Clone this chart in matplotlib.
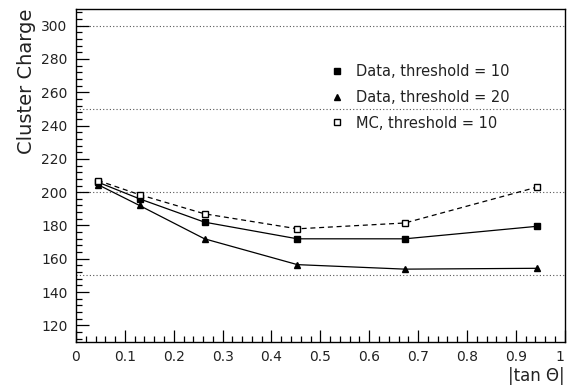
import matplotlib.pyplot as plt
import numpy as np
from matplotlib.ticker import MultipleLocator

# values
tan_theta = [0.045, 0.13, 0.263, 0.453, 0.673, 0.943]
data_thr10 = [206, 196, 182, 172, 172, 179.5]
data_thr20 = [204.5, 192, 172, 156.5, 153.8, 154.3]
mc_thr10 = [207, 198.5, 187, 178, 181.5, 203]
grid_levels = [150, 200, 250, 300]

plt.rcParams['font.family'] = ['DejaVu Sans']

fig = plt.figure(figsize=(5.67, 3.87), dpi=100)
ax = fig.add_axes([0.134, 0.116, 0.862, 0.861])

for g in grid_levels:
    ax.axhline(g, color='#555555', lw=0.8, ls=(0, (1, 2)), zorder=0)

ax.plot(tan_theta, data_thr10, color='black', lw=0.9, marker='s', ms=5,
        mfc='black', mec='black', label='Data, threshold = 10')
ax.plot(tan_theta, data_thr20, color='black', lw=0.9, marker='^', ms=5,
        mfc='black', mec='black', label='Data, threshold = 20')
ax.plot(tan_theta, mc_thr10, color='black', lw=0.9, ls=(0, (4, 3)), marker='s', ms=5,
        mfc='white', mec='black', label='MC, threshold = 10')

ax.set_xlim(0, 1)
ax.set_ylim(110, 310)
ax.xaxis.set_minor_locator(MultipleLocator(0.02))
ax.yaxis.set_minor_locator(MultipleLocator(4))
ax.set_yticks(np.arange(120, 301, 20))
ax.set_xticks(np.arange(0, 1.01, 0.1))
ax.set_xticklabels(['0', '0.1', '0.2', '0.3', '0.4', '0.5', '0.6', '0.7', '0.8', '0.9', '1'])
ax.tick_params(which='both', direction='in', top=False, right=False, labelsize=10,
               width=0.9, labelcolor='#222222')
ax.tick_params(which='major', length=9, pad=6)
ax.tick_params(which='minor', length=4)
ax.get_xticklabels()[-1].set_ha('right')
for s in ax.spines.values():
    s.set_linewidth(1.0)

ax.set_ylabel('Cluster Charge', fontsize=14, loc='top', labelpad=4, color='#222222')
ax.set_xlabel('|tan Θ|', fontsize=12, loc='right', labelpad=2, color='#222222')

leg = ax.legend(loc='upper right', bbox_to_anchor=(0.915, 0.875), frameon=False,
                fontsize=10.5, handlelength=0, handletextpad=1.3, labelspacing=0.75,
                markerscale=0.9)
for h in leg.legend_handles:
    h.set_linestyle('none')
for t in leg.get_texts():
    t.set_color('#222222')

fig.savefig('out.png', dpi=100)
